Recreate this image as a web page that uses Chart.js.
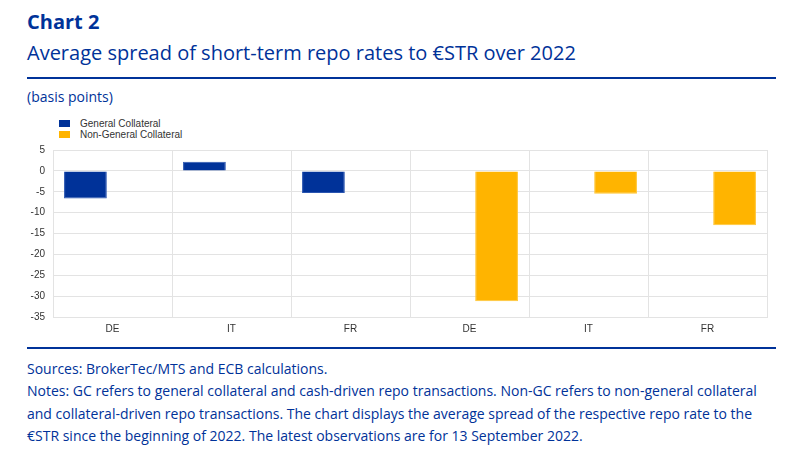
<!DOCTYPE html>
<html>
<head>
<meta charset="utf-8">
<script src="https://cdn.jsdelivr.net/npm/chart.js@4"></script>
<style>
  body { margin: 0; width: 802px; height: 465px; background: #fff; position: relative; font-family: "Open Sans", sans-serif; color: #003299; overflow: hidden; }
  .abs { position: absolute; white-space: nowrap; }
  #title { left: 27px; top: 8px; font-size: 20px; font-weight: bold; line-height: normal; }
  #subtitle { left: 27px; top: 38.6px; font-size: 20px; line-height: normal; }
  .rule { position: absolute; left: 27px; width: 749px; height: 2px; background: #003299; }
  #unit { left: 27px; top: 87px; font-size: 14px; line-height: normal; }
  #legend { left: 59px; top: 118px; font-family: "Liberation Sans", Arial, sans-serif; font-size: 10px; color: #333; line-height: 11px; }
  #legend .box { display: inline-block; width: 11px; height: 7px; margin-right: 10px; vertical-align: 0px; }
  #notes { left: 27px; top: 357.6px; font-size: 14px; line-height: 22.5px; }
  #wrap { position: absolute; left: 0; top: 136px; width: 802px; height: 209px; }
</style>
</head>
<body>
<div class="abs" id="title">Chart 2</div>
<div class="abs" id="subtitle">Average spread of short-term repo rates to €STR over 2022</div>
<div class="rule" style="top:77px"></div>
<div class="abs" id="unit">(basis points)</div>
<div class="abs" id="legend"></div>
<div id="wrap"><canvas id="chart"></canvas></div>
<div class="rule" style="top:347px"></div>
<div class="abs" id="notes">Sources: BrokerTec/MTS and ECB calculations.<br>Notes: GC refers to general collateral and cash-driven repo transactions. Non-GC refers to non-general collateral<br>and collateral-driven repo transactions. The chart displays the average spread of the respective repo rate to the<br>€STR since the beginning of 2022. The latest observations are for 13 September 2022.</div>
<script>
const categories = ['DE', 'IT', 'FR', 'DE', 'IT', 'FR'];
const generalCollateral = [-6.6, 2.2, -5.3, null, null, null];
const nonGeneralCollateral = [null, null, null, -31.2, -5.5, -13.0];
const yTicks = [5, 0, -5, -10, -15, -20, -25, -30, -35];

const blue = '#003299';
const yellow = '#ffb400';

var ctx = document.getElementById('chart').getContext('2d');

var myChart = new Chart(ctx, {
  type: 'bar',
  data: {
    labels: categories,
    datasets: [{
      label: 'General Collateral',
      data: generalCollateral,
      backgroundColor: blue,
      borderColor: '#2a55b0',
      borderWidth: 1,
      categoryPercentage: 0.91,
      barPercentage: 0.79
    }, {
      label: 'Non-General Collateral',
      data: nonGeneralCollateral,
      backgroundColor: yellow,
      borderColor: '#ffc633',
      borderWidth: 1,
      categoryPercentage: 0.91,
      barPercentage: 0.79
    }]
  },
  options: {
    responsive: true,
    maintainAspectRatio: false,
    animation: false,
    layout: { padding: { top: 7, right: 35, bottom: 0, left: 0 } },
    plugins: {
      legend: { display: false },
      tooltip: { enabled: false }
    },
    scales: {
      x: {
        grid: { color: '#e3e3e3', lineWidth: 1, drawTicks: false },
        border: { color: '#e3e3e3' },
        ticks: { color: '#333', font: { family: 'Liberation Sans', size: 10 }, padding: 6 },
        afterFit: function(scale) { scale.height = 28; }
      },
      y: {
        min: Math.min(...yTicks),
        max: Math.max(...yTicks),
        grid: { color: '#e3e3e3', lineWidth: 1, drawTicks: false },
        border: { color: '#e3e3e3' },
        ticks: { stepSize: 5, color: '#333', font: { family: 'Liberation Sans', size: 10 }, padding: 8 },
        afterFit: function(scale) { scale.width = 53; }
      }
    }
  }
});

// legend built from the datasets
document.getElementById('legend').innerHTML = myChart.data.datasets.map(ds =>
  '<div><span class="box" style="background:' + ds.backgroundColor + '"></span>' + ds.label + '</div>'
).join('');
</script>
</body>
</html>
